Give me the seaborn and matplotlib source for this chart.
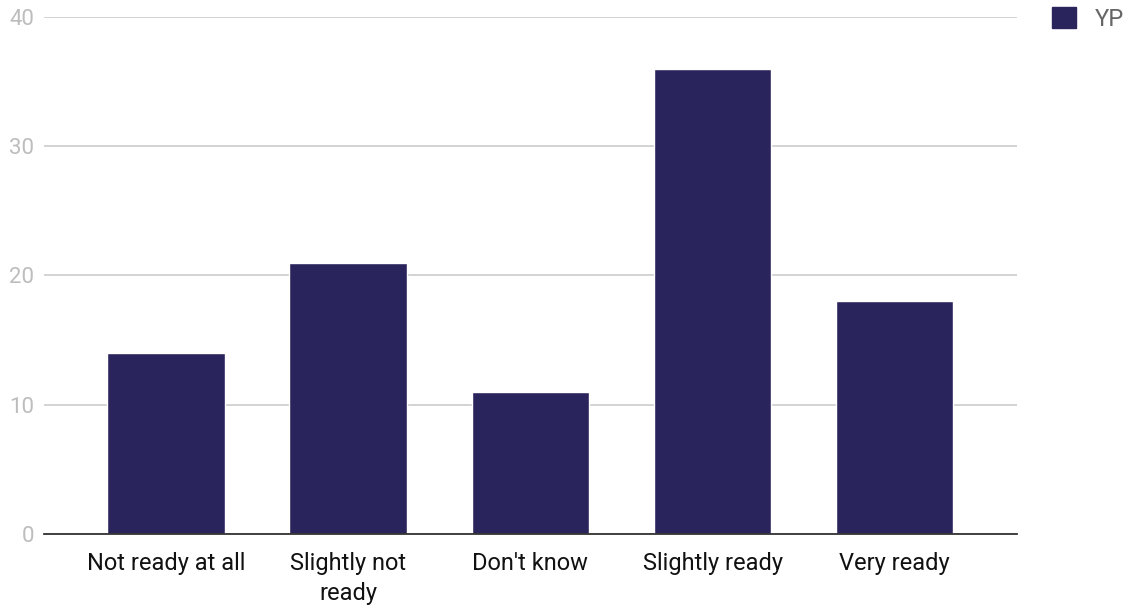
import matplotlib
matplotlib.use('Agg')
import matplotlib.pyplot as plt
from matplotlib.patches import Patch
import seaborn as sns
import pandas as pd

categories = ['Not ready at all', 'Slightly not\nready', "Don't know", 'Slightly ready', 'Very ready']
values = [14, 21, 11, 36, 18]
series_name = 'YP'

BAR = '#2a245c'
GRID = '#cccccc'
TICK = '#bdbdbd'

sns.set_style('white')
plt.rcParams['font.family'] = ['Roboto', 'DejaVu Sans']

df = pd.DataFrame({'cat': categories, 'val': values})

fig = plt.figure(figsize=(11.31, 6.07), dpi=100)
ax = fig.add_axes([0.0389, 0.1203, 0.8601, 0.8517])

sns.barplot(data=df, x='cat', y='val', color=BAR, width=0.645, saturation=1, ax=ax)

ax.set_ylim(0, 40)
ax.set_xlim(-0.67, 4.67)
ax.set_yticks([0, 10, 20, 30, 40])
ax.yaxis.grid(True, color=GRID, lw=1.2)
ax.set_axisbelow(True)
for sp in ['top', 'right', 'left']:
    ax.spines[sp].set_visible(False)
ax.spines['bottom'].set_color('#333333')
ax.spines['bottom'].set_linewidth(1.3)
ax.set_xlabel('')
ax.set_ylabel('')
ax.tick_params(axis='y', colors=TICK, labelsize=16, length=0, pad=7)
ax.tick_params(axis='x', colors='#111111', labelsize=17, length=0, pad=13)
for lbl in ax.get_xticklabels():
    lbl.set_linespacing(1.4)

handle = Patch(facecolor=BAR, edgecolor=BAR, label=series_name)
fig.legend(handles=[handle], loc='upper right', bbox_to_anchor=(1.0, 1.0),
           frameon=False, fontsize=17, labelcolor='#666666', borderpad=0.2,
           borderaxespad=0.1, handlelength=1.0, handleheight=1.0, handletextpad=0.8)

plt.savefig('out.png', dpi=100)
plt.close()
